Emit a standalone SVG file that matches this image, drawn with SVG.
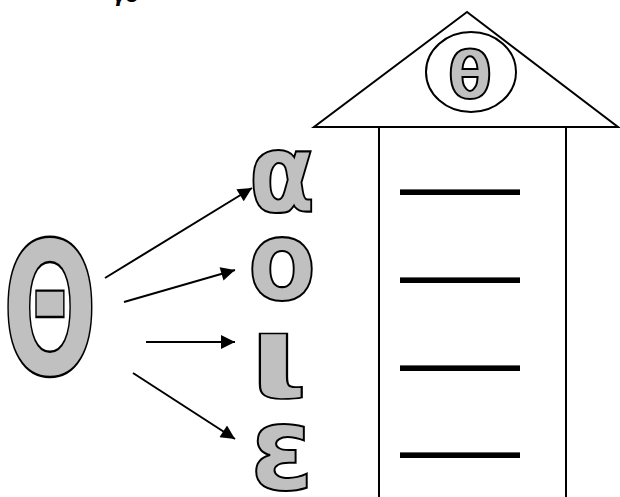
<svg xmlns="http://www.w3.org/2000/svg" width="620" height="497" viewBox="0 0 620 497">
<style>
.g{fill:#c0c0c0;stroke:#000;stroke-width:2;font-family:"DejaVu Sans",Verdana,sans-serif;font-weight:bold;text-anchor:middle;vector-effect:non-scaling-stroke}
.ln{stroke:#000;stroke-width:2;fill:none}
.u{font-family:"DejaVu Sans",sans-serif;font-weight:bold;font-size:60px;fill:#000}
</style>
<defs>
<marker id="ah" viewBox="0 0 10 10" refX="10" refY="5" markerWidth="8" markerHeight="7" markerUnits="strokeWidth" orient="auto">
<path d="M0,0 L10,5 L0,10 z" fill="#000"/>
</marker>
</defs>
<rect width="620" height="497" fill="#fff"/>
<text x="112" y="2" font-family="DejaVu Sans,sans-serif" font-style="italic" font-weight="bold" font-size="20" fill="#000">γο</text>
<g id="theta-big">
<text class="g" transform="translate(50,374) scale(0.6,1)" font-size="186">Θ</text>
</g>
<g id="house">
<polygon points="467,12 314,127 618,127" fill="#fff" stroke="#000" stroke-width="2"/>
<ellipse cx="471" cy="72" rx="45" ry="40" fill="#fff" stroke="#000" stroke-width="2"/>
<text class="g" x="470" y="98" font-size="64">θ</text>
<path d="M379,127 V497 M566,127 V497" class="ln"/>
<text class="u" x="400" y="180.5" textLength="120" lengthAdjust="spacingAndGlyphs">_____</text>
<text class="u" x="400" y="268.5" textLength="120" lengthAdjust="spacingAndGlyphs">_____</text>
<text class="u" x="400" y="356.5" textLength="120" lengthAdjust="spacingAndGlyphs">_____</text>
<text class="u" x="400" y="443.5" textLength="120" lengthAdjust="spacingAndGlyphs">_____</text>
</g>
<g id="alpha"><text class="g" transform="translate(282,211) scale(0.88,1)" font-size="110">α</text></g>
<g id="omicron"><text class="g" transform="translate(282,299) scale(0.9,1)" font-size="110">ο</text></g>
<g id="iota"><text class="g" transform="translate(278,397) scale(1.35,1)" font-size="115">ι</text></g>
<g id="epsilon"><text class="g" transform="translate(282,489) scale(1,1)" font-size="115">ε</text></g>
<g id="connectors">
<line x1="105" y1="278" x2="252" y2="188" class="ln" marker-end="url(#ah)"/>
<line x1="124" y1="302" x2="235" y2="270" class="ln" marker-end="url(#ah)"/>
<line x1="146" y1="342" x2="235" y2="342" class="ln" marker-end="url(#ah)"/>
<line x1="133" y1="373" x2="235" y2="439" class="ln" marker-end="url(#ah)"/>
</g>
</svg>
